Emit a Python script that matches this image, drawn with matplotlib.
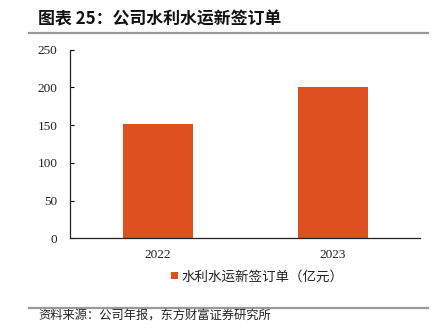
import matplotlib.pyplot as plt
from matplotlib.lines import Line2D

plt.rcParams['font.family'] = ['Noto Sans CJK SC', 'DejaVu Sans']

years = ['2022', '2023']
orders = [152, 201]
series_name = '水利水运新签订单（亿元）'
title = '图表 25：公司水利水运新签订单'
source = '资料来源：公司年报，东方财富证券研究所'
yticks = [0, 50, 100, 150, 200, 250]

bar_color = '#DF5020'
W, H = 443, 336

fig = plt.figure(figsize=(W / 100, H / 100), dpi=100)
ax = fig.add_axes([70 / W, 1 - 238.3 / H, 350 / W, 188.8 / H])

ax.bar(range(len(years)), orders, width=0.4, color=bar_color, label=series_name)
ax.set_xlim(-0.5, len(years) - 0.5)
ax.set_ylim(0, 250)
ax.set_yticks(yticks)
ax.set_xticks(range(len(years)))
ax.set_xticklabels(years)

for lab in ax.get_xticklabels() + ax.get_yticklabels():
    lab.set_fontfamily('Liberation Serif')
    lab.set_fontsize(9.5)
    lab.set_color('#222222')

ax.spines['top'].set_visible(False)
ax.spines['right'].set_visible(False)
for s in ('left', 'bottom'):
    ax.spines[s].set_color('#222222')
    ax.spines[s].set_linewidth(0.9)
ax.tick_params(axis='y', direction='in', length=3, width=0.8, pad=9)
ax.tick_params(axis='x', length=0, pad=8)

leg = ax.legend(loc='upper center', bbox_to_anchor=(0.535, -0.1), frameon=False,
                fontsize=9.7, handlelength=0.5, handleheight=0.5, handletextpad=0.3)
for t in leg.get_texts():
    t.set_color('#222222')

# header and footer
fig.text(38 / W, 1 - 19.5 / H, title, fontsize=12.2, fontweight='bold',
         va='center', ha='left', color='#111111')
fig.add_artist(Line2D([29 / W, 428 / W], [1 - 32.5 / H, 1 - 32.5 / H],
                      color='#999999', lw=1.6, transform=fig.transFigure))
fig.add_artist(Line2D([29 / W, 428 / W], [1 - 307.5 / H, 1 - 307.5 / H],
                      color='#999999', lw=1.6, transform=fig.transFigure))
fig.text(38 / W, 1 - 316 / H, source, fontsize=8.8, va='center', ha='left',
         color='#222222')

fig.savefig('out.png', dpi=100)
